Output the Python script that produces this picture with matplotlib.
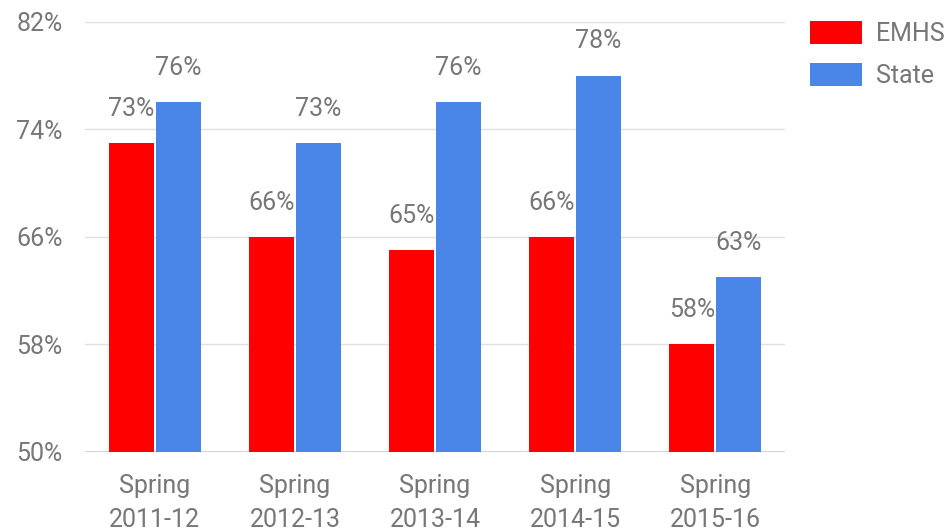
import numpy as np
from matplotlib import pyplot as plt

plt.rcParams['font.family'] = ['Roboto', 'DejaVu Sans']

terms = ['Spring\n2011-12', 'Spring\n2012-13', 'Spring\n2013-14', 'Spring\n2014-15', 'Spring\n2015-16']
emhs = [73, 66, 65, 66, 58]
state = [76, 73, 76, 78, 63]
yticks = [50, 58, 66, 74, 82]

red = '#ff0000'
blue = '#4a86e8'
grey = '#777777'

fig = plt.figure(figsize=(9.53, 5.31), dpi=100)
ax = fig.add_axes([0.089, 0.149, 0.735, 0.81])

x = np.arange(len(terms))
w = 0.32
b1 = ax.bar(x - w / 2 - 0.007, emhs, w, color=red, zorder=3)
b2 = ax.bar(x + w / 2 + 0.007, state, w, color=blue, zorder=3)

# value labels sit a bit above each bar
for rect, v in zip(list(b1) + list(b2), emhs + state):
    ax.annotate(f'{v}%', (rect.get_x() + rect.get_width() / 2, v),
                xytext=(0, 16), textcoords='offset points',
                ha='center', va='bottom', fontsize=18, color=grey, zorder=4)

ax.set_ylim(50, 82)
ax.set_xlim(-0.5, len(terms) - 0.5)
ax.set_yticks(yticks)
ax.set_yticklabels([f'{t}%' for t in yticks])
ax.set_xticks(x)
ax.set_xticklabels(terms, linespacing=1.5)
ax.tick_params(length=0, labelsize=18, labelcolor=grey)
ax.tick_params(axis='y', pad=16)
ax.tick_params(axis='x', pad=16)
for s in ax.spines.values():
    s.set_visible(False)
ax.grid(axis='y', color='#e0e0e0', linewidth=1, zorder=0)
ax.axhline(50, color='#cccccc', linewidth=1.2, zorder=2)

ax.legend([b1, b2], ['EMHS', 'State'], loc='upper left', bbox_to_anchor=(1.003, 1.055),
          frameon=False, fontsize=18, labelcolor=grey, handlelength=2.1,
          handleheight=1.05, handletextpad=0.55, labelspacing=0.68)

plt.savefig('out.png', dpi=100)
